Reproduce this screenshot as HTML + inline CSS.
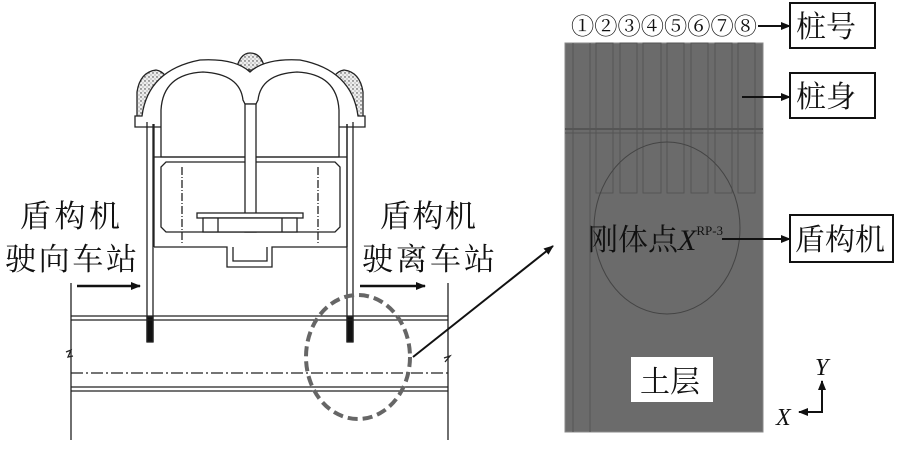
<!DOCTYPE html>
<html><head><meta charset="utf-8"><style>
body{margin:0;background:#fff}
svg{display:block}
text{font-family:"Liberation Serif","Noto Serif CJK SC","Noto Sans CJK SC",serif;fill:#111}
</style></head><body>
<svg width="900" height="450" viewBox="0 0 900 450" xmlns="http://www.w3.org/2000/svg">
<defs>
<marker id="ah" markerWidth="10" markerHeight="8" refX="9" refY="4" orient="auto" markerUnits="userSpaceOnUse">
<path d="M0,0 L10,4 L0,8 z" fill="#111"/></marker>
<pattern id="dots" width="4" height="4" patternUnits="userSpaceOnUse"><rect width="4" height="4" fill="#eee"/><circle cx="1" cy="1" r="0.7" fill="#333"/><circle cx="3" cy="3" r="0.5" fill="#555"/></pattern>
</defs>
<g stroke="#222" stroke-width="1.3" fill="none">
<path d="M137,124 L137,92 Q140,72 156,70 Q168,72 170,90 L160,124 Z" fill="url(#dots)"/>
<path d="M363,124 L363,92 Q360,72 344,70 Q332,72 330,90 L340,124 Z" fill="url(#dots)"/>
<path d="M236,70 Q240,53 250,53 Q262,53 265,70 Z" fill="url(#dots)"/>
<path d="M135,127 L135,116 L142,116 Q148,70 200,60 Q235,58 250,72 Q265,58 300,60 Q352,70 358,116 L365,116 L365,127 Z" fill="#fff"/>
<path d="M161,157 L161,110 Q163,74 203,72 Q240,74 243,100 L245,104 L256,104 L258,100 Q261,74 297,72 Q337,74 339,110 L339,157 Z" fill="#fff"/>
<line x1="147" y1="122" x2="147" y2="342"/><line x1="153" y1="124" x2="153" y2="342"/>
<line x1="347" y1="124" x2="347" y2="342"/><line x1="353" y1="122" x2="353" y2="342"/>
<rect x="147" y="317" width="6" height="25" fill="#111"/>
<rect x="347" y="317" width="6" height="25" fill="#111"/>
<line x1="154" y1="124" x2="154" y2="247"/><line x1="347" y1="124" x2="347" y2="247"/>
<line x1="154" y1="157" x2="347" y2="157"/>
<path d="M166,162 L335,162 L340,167 L340,227 L335,232 L166,232 L161,227 L161,167 Z" fill="#fff"/>
<rect x="245" y="104" width="11" height="128" fill="#fff"/>
<line x1="182" y1="167" x2="182" y2="245" stroke-dasharray="8 2 1 2"/>
<line x1="318" y1="167" x2="318" y2="245" stroke-dasharray="8 2 1 2"/>
<rect x="197" y="213" width="106" height="5" fill="#fff"/>
<rect x="203" y="218" width="94" height="14" fill="#fff"/>
<line x1="218" y1="218" x2="218" y2="232"/><line x1="282" y1="218" x2="282" y2="232"/>
<path d="M154,247 L227,247 L227,267 L272,267 L272,247 L347,247"/>
<path d="M233,247 L233,261 L267,261 L267,247"/>
<line x1="71" y1="316" x2="448" y2="316"/><line x1="71" y1="320" x2="448" y2="320"/>
<line x1="71" y1="387" x2="448" y2="387"/><line x1="71" y1="391" x2="448" y2="391"/>
<line x1="71" y1="373" x2="448" y2="373" stroke-dasharray="12 3 2 3"/>
<line x1="71" y1="283" x2="71" y2="440"/><line x1="448" y1="283" x2="448" y2="440"/>
<path d="M66,352 L71,350 L68,357 L73,356"/>
<path d="M444,358 L450,356 L445,362"/>
</g>
<ellipse cx="358" cy="357" rx="52" ry="62" fill="none" stroke="#666" stroke-width="4" stroke-dasharray="10 5"/>
<line x1="413" y1="357" x2="553" y2="246" stroke="#111" stroke-width="2" marker-end="url(#ah)"/>
<line x1="77" y1="286" x2="140" y2="286" stroke="#111" stroke-width="2.5" marker-end="url(#ah)"/>
<line x1="360" y1="286" x2="425" y2="286" stroke="#111" stroke-width="2.5" marker-end="url(#ah)"/>
<g font-size="31">
<text x="20" y="227" textLength="100" lengthAdjust="spacing">盾构机</text>
<text x="5" y="270" textLength="132" lengthAdjust="spacing">驶向车站</text>
<text x="380" y="227" textLength="96" lengthAdjust="spacing">盾构机</text>
<text x="362" y="270" textLength="133" lengthAdjust="spacing">驶离车站</text>
</g>
<rect x="565" y="43" width="198" height="389" fill="#6b6b6b" stroke="#888"/>
<g stroke="#555" stroke-width="1" fill="none">
<line x1="573" y1="43" x2="573" y2="432"/><line x1="590" y1="43" x2="590" y2="432"/>
<rect x="596" y="43" width="17" height="150"/><rect x="620" y="43" width="17" height="150"/>
<rect x="643" y="43" width="18" height="150"/><rect x="667" y="43" width="17" height="150"/>
<rect x="691" y="43" width="17" height="150"/><rect x="715" y="43" width="17" height="150"/>
<rect x="738" y="43" width="17" height="150"/>
<line x1="565" y1="129" x2="763" y2="129" stroke-width="2"/><line x1="565" y1="133" x2="763" y2="133"/>
<ellipse cx="667" cy="228" rx="73" ry="86" stroke="#444"/>
</g>
<text x="571" y="34" font-size="23" textLength="186" lengthAdjust="spacingAndGlyphs">①②③④⑤⑥⑦⑧</text>
<line x1="758" y1="26" x2="790" y2="26" stroke="#111" stroke-width="2" marker-end="url(#ah)"/>
<line x1="742" y1="97" x2="790" y2="97" stroke="#111" stroke-width="2" marker-end="url(#ah)"/>
<line x1="722" y1="239" x2="790" y2="239" stroke="#111" stroke-width="2" marker-end="url(#ah)"/>
<g fill="#fff" stroke="#111" stroke-width="2">
<rect x="790" y="3" width="85" height="45"/><rect x="790" y="73" width="85" height="45"/>
<rect x="790" y="215" width="103" height="47"/>
</g>
<rect x="631" y="357" width="82" height="45" fill="#fff"/>
<g font-size="30">
<text x="796" y="37">桩号</text><text x="796" y="107">桩身</text>
<text x="795" y="250">盾构机</text><text x="640" y="392">土层</text>
<text x="588" y="250" font-size="30">刚体点<tspan font-style="italic">X</tspan><tspan font-size="13" dy="-15">RP-3</tspan></text>
</g>
<line x1="822" y1="413" x2="822" y2="381" stroke="#111" stroke-width="2" marker-end="url(#ah)"/>
<line x1="822" y1="412" x2="799" y2="412" stroke="#111" stroke-width="2" marker-end="url(#ah)"/>
<text x="815" y="375" font-size="24" font-style="italic">Y</text>
<text x="776" y="425" font-size="24" font-style="italic">X</text>
</svg>
</body></html>
